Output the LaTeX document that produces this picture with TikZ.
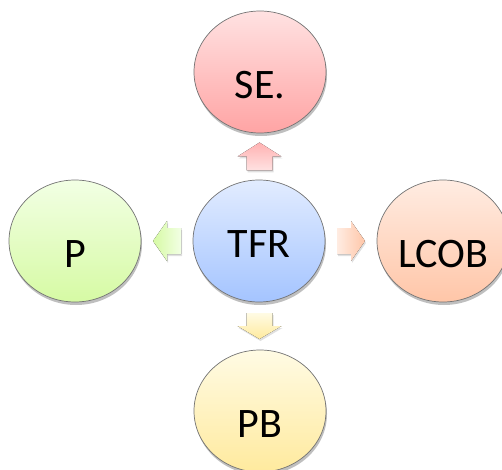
\documentclass[tikz,border=0pt]{standalone}
\usepackage{fontspec}
\setmainfont{Carlito}
\usepackage{tikz}
\usetikzlibrary{shadows,shapes,calc}
\usepackage{xcolor}

\definecolor{seTop}{RGB}{255,226,226}
\definecolor{seBottom}{RGB}{255,164,164}
\definecolor{tfrTop}{RGB}{226,236,255}
\definecolor{tfrBottom}{RGB}{164,196,255}
\definecolor{pTop}{RGB}{242,255,228}
\definecolor{pBottom}{RGB}{214,250,164}
\definecolor{lcobTop}{RGB}{255,236,226}
\definecolor{lcobBottom}{RGB}{255,198,168}
\definecolor{pbTop}{RGB}{255,251,228}
\definecolor{pbBottom}{RGB}{255,234,158}

\begin{document}
\begin{tikzpicture}[
  x=1pt, y=1pt,
  circleStyle/.style={ellipse, minimum width=132pt, minimum height=122pt, inner sep=0pt,
    draw=black!55, line width=0.7pt, font=\fontsize{42}{42}\selectfont,
    text height=53pt, text depth=0pt,
    drop shadow={shadow xshift=1pt, shadow yshift=-3pt, opacity=0.25, fill=black}},
  arrowStyle/.style={drop shadow={shadow xshift=1pt, shadow yshift=-2pt, opacity=0.12, fill=black}}]

\useasboundingbox (0,0) rectangle (502,469);

\node [circleStyle, top color=tfrTop, bottom color=tfrBottom, text height=33pt] (tfr) at (259,228) {TFR};
\node [circleStyle, top color=seTop, bottom color=seBottom] (se) at (260,397) {SE.};
\node [circleStyle, top color=pTop, bottom color=pBottom] (p) at (75,228) {P};
\node [circleStyle, top color=lcobTop, bottom color=lcobBottom] (lcob) at (443,228) {LCOB};
\node [circleStyle, top color=pbTop, bottom color=pbBottom] (pb) at (260,58) {PB};

\coordinate (upArrow) at ($(tfr)!0.5!(se)$);
\coordinate (leftArrow) at ($(tfr)!0.5!(p)$);
\coordinate (rightArrow) at ($(tfr)!0.5!(lcob)$);
\coordinate (downArrow) at ($(tfr)!0.5!(pb)$);

\fill [arrowStyle, top color=seBottom!85, bottom color=seTop] ($(upArrow)+(0,14)$) -- ++(-22,-14) -- ++(9,0) -- ++(0,-14) -- ++(26,0) -- ++(0,14) -- ++(9,0) -- cycle;
\fill [arrowStyle, left color=pBottom, right color=pTop] ($(leftArrow)+(-14,0)$) -- ++(14,20) -- ++(0,-7) -- ++(14,0) -- ++(0,-26) -- ++(-14,0) -- ++(0,-7) -- cycle;
\fill [arrowStyle, right color=lcobBottom, left color=lcobTop] ($(rightArrow)+(14,0)$) -- ++(-14,20) -- ++(0,-7) -- ++(-14,0) -- ++(0,-26) -- ++(14,0) -- ++(0,-7) -- cycle;
\fill [arrowStyle, bottom color=pbBottom, top color=pbTop] ($(downArrow)+(0,-13)$) -- ++(-22,13) -- ++(9,0) -- ++(0,13) -- ++(26,0) -- ++(0,-13) -- ++(9,0) -- cycle;
\end{tikzpicture}
\end{document}
